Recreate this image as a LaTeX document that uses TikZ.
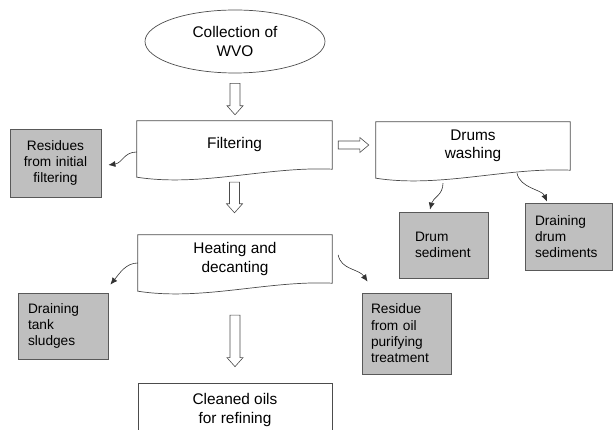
\documentclass[tikz,border=0pt]{standalone}
\usepackage{fontspec}
\setmainfont{Liberation Sans}
\usepackage{tikz}
\usetikzlibrary{arrows.meta, shapes.geometric, calc}

\newcommand{\procfont}{\fontsize{15.4}{18.3}\selectfont}
\newcommand{\wastefont}{\fontsize{13.7}{16.3}\selectfont}

% outline of a process box with a wavy bottom edge
\newcommand{\docoutline}[1]{%
  \draw[procline] (#1.north west) -- (#1.north east) -- (#1.south east)
    .. controls ($(#1.south east)!0.33!(#1.south west)+(0,-3)$)
       and ($(#1.south west)!0.33!(#1.south east)+(0,18)$)
    .. ($(#1.south west)+(0,8)$) -- cycle;}

% hollow block arrows between two points
\newcommand{\hollowdown}[2]{%
  \draw[hollow] let \p1=#1, \p2=#2 in
    (\x1-5pt,\y1) -- (\x1+5pt,\y1) -- (\x1+5pt,\y2+9pt) -- (\x1+8pt,\y2+9pt)
    -- (\x1,\y2) -- (\x1-8pt,\y2+9pt) -- (\x1-5pt,\y2+9pt) -- cycle;}
\newcommand{\hollowright}[2]{%
  \draw[hollow] let \p1=#1, \p2=#2 in
    (\x1,\y1+4pt) -- (\x2-9pt,\y1+4pt) -- (\x2-9pt,\y1+7.5pt) -- (\x2,\y1)
    -- (\x2-9pt,\y1-7.5pt) -- (\x2-9pt,\y1-4pt) -- (\x1,\y1-4pt) -- cycle;}

\begin{document}
\begin{tikzpicture}[
    x=1pt, y=-1pt,
    procline/.style={draw=black!70, line width=0.7pt},
    hollow/.style={draw=black!70, fill=white, line width=0.6pt},
    process/.style={
        rectangle, draw=none, align=center, font=\procfont,
        minimum width=195pt, minimum height=48pt, inner sep=0pt
    },
    waste/.style={
        rectangle, draw=black!65, fill=gray!50, line width=0.8pt,
        align=left, font=\wastefont, inner ysep=0pt
    },
    drain/.style={-{Latex[length=7pt,width=6pt]}, line width=0.6pt, black!80},
]
\useasboundingbox (0,0) rectangle (613,430);
\clip (0,0) rectangle (613,430);

% ── Main line ──
\node[ellipse, procline, align=center, font=\procfont, inner sep=0pt,
      minimum width=180pt, minimum height=63pt] (wvo) at (235,41.5) {Collection of\\WVO};
\node[process] (filter) at (234.5,145) {Filtering};
\node[process, minimum width=194pt] (wash) at (473,146) {Drums\\washing};
\node[process, minimum width=194pt] (heat) at (235,259) {Heating and\\decanting};
\node[process, procline, minimum width=194pt, minimum height=54pt] (clean) at (235,410) {Cleaned oils\\for refining};

\docoutline{filter}
\docoutline{wash}
\docoutline{heat}

% ── Residues ──
\node[waste, align=center, text width=83pt, inner xsep=4pt, minimum height=68pt] (resid) at (55.5,163) {Residues\\from initial\\filtering};
\node[waste, text width=70pt, inner xsep=10pt, minimum height=66pt] (sludge) at (63,326) {Draining\\tank\\sludges};
\node[waste, text width=57pt, inner xsep=16pt, minimum height=66pt] (drumsed) at (443.5,245) {Drum\\sediment};
\node[waste, text width=67pt, inner xsep=10pt, minimum height=67pt] (draindrum) at (568.5,236.5) {Draining\\drum\\sediments};
\node[waste, text width=71pt, inner xsep=9pt, minimum height=81pt] (purify) at (406.5,333.5) {Residue\\from oil\\purifying\\treatment};

% ── Block arrows ──
\hollowdown{($(wvo.south)+(0,10)$)}{($(filter.north)+(0,-6)$)}
\hollowdown{($(filter.south)+(0,13)$)}{($(heat.north)+(0,-22)$)}
\hollowdown{($(heat.south)+(0,32)$)}{($(clean.north)+(0,-16)$)}
\hollowright{($(filter.east)+(6,0)$)}{($(wash.west)+(-7,0)$)}

% ── Drain arrows ──
\draw[drain] ($(filter.west)+(0,7)$) .. controls +(-13,0) and +(14,-2) .. ($(resid.east)+(7,2)$);
\draw[drain] ($(heat.west)+(0,4)$) .. controls +(-12,0) and +(9,-11) .. ($(sludge.north east)+(2,-8)$);
\draw[drain] ($(heat.east)+(6,-4)$) .. controls +(3,15) and +(-9,-13) .. ($(purify.north west)+(6,-11)$);
\draw[drain] ($(wash.south)+(-30,13)$) .. controls +(0,12) and +(3,-12) .. ($(drumsed.north)+(-13.5,-2)$);
\draw[drain] ($(wash.south)+(44,3)$) .. controls +(3,15) and +(-5,-12) .. ($(draindrum.north)+(-21.5,-1)$);

\end{tikzpicture}
\end{document}
